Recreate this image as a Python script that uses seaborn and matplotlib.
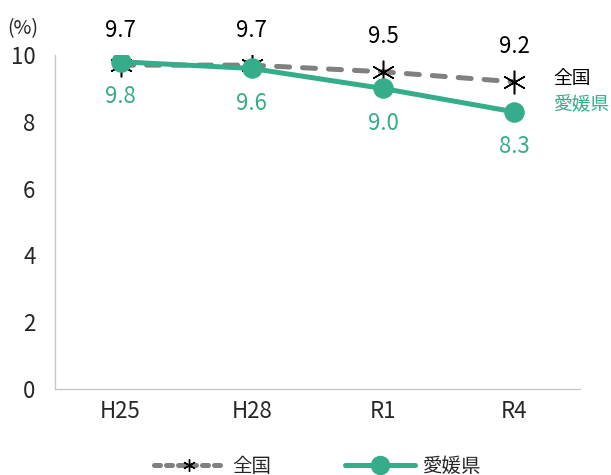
import numpy as np
import pandas as pd
import matplotlib.pyplot as plt
import seaborn as sb
from matplotlib.lines import Line2D

periods = ["H25", "H28", "R1", "R4"]
national = [9.7, 9.7, 9.5, 9.2]
ehime = [9.8, 9.6, 9.0, 8.3]
series_names = ["全国", "愛媛県"]

sb.set_style("white")
plt.rcParams['font.family'] = ['Noto Sans CJK JP', 'DejaVu Sans']

green = "#35ad8a"
grey = "#808080"

fig = plt.figure(figsize=(6.11, 4.75), dpi=100)
ax = fig.add_axes([0.09, 0.181, 0.859, 0.703])

xs = np.arange(len(periods))
sb.lineplot(x=xs, y=national, ax=ax, color=grey, linewidth=3.6, linestyle=(0, (2.6, 2.6)),
            dash_capstyle="round", marker=(6, 2, 0), markersize=17,
            markeredgecolor="black", markeredgewidth=1.1)
sb.lineplot(x=xs, y=ehime, ax=ax, color=green, linewidth=3.6,
            marker="o", markersize=14, markeredgecolor=green)

for x, v in zip(xs, national):
    ax.text(x, v + 1.05, f"{v:.1f}", ha="center", va="center", fontsize=16, color="black")
for x, v in zip(xs, ehime):
    ax.text(x, v - 1.05, f"{v:.1f}", ha="center", va="center", fontsize=16, color=green)

# series names at the right end
ax.text(3.3, national[-1] + 0.1, series_names[0], ha="left", va="center", fontsize=13.5, color="black")
ax.text(3.3, ehime[-1] + 0.2, series_names[1], ha="left", va="center", fontsize=13.5, color=green)

ax.set_xlim(-0.5, 3.5)
ax.set_ylim(0, 10)
ax.set_yticks([0, 2, 4, 6, 8, 10])
ax.set_xticks(xs)
ax.set_xticklabels(periods)
ax.set_xticks(np.arange(-0.5, 4, 1), minor=True)
ax.tick_params(axis="x", which="major", length=0, labelsize=16, pad=8)
ax.tick_params(axis="x", which="minor", length=5, color="#c8c8c8", direction="out")
ax.tick_params(axis="y", length=0, labelsize=16, pad=14)
for s in ["top", "right"]:
    ax.spines[s].set_visible(False)
for s in ["left", "bottom"]:
    ax.spines[s].set_color("#c8c8c8")
    ax.spines[s].set_linewidth(1)
fig.text(0.012, 0.94, "(%)", fontsize=14, ha="left", va="center")

handles = [
    Line2D([], [], color=grey, linewidth=3.6, linestyle=(0, (1.2, 1.2)), dash_capstyle="round",
           marker=(6, 2, 0), markersize=9, markeredgecolor="black", markeredgewidth=1),
    Line2D([], [], color=green, linewidth=3.6, marker="o", markersize=13, markeredgecolor=green),
]
fig.legend(handles, series_names, loc="lower center", ncol=2, frameon=False, fontsize=14,
           bbox_to_anchor=(0.52, -0.04), handlelength=3.6, columnspacing=3.8, handletextpad=0.4)

fig.savefig("out.png", dpi=100)
